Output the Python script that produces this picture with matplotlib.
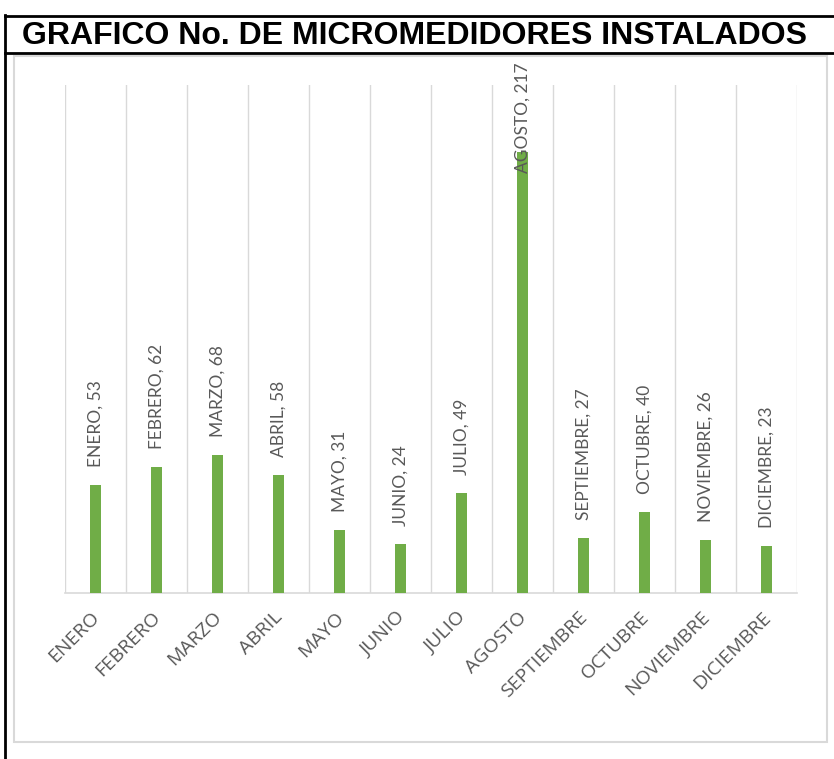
import matplotlib.pyplot as plt
from matplotlib.lines import Line2D
from matplotlib.patches import Rectangle
import numpy as np

meses = ['ENERO', 'FEBRERO', 'MARZO', 'ABRIL', 'MAYO', 'JUNIO', 'JULIO',
         'AGOSTO', 'SEPTIEMBRE', 'OCTUBRE', 'NOVIEMBRE', 'DICIEMBRE']
instalados = [53, 62, 68, 58, 31, 24, 49, 217, 27, 40, 26, 23]

W, H = 834, 759
fig = plt.figure(figsize=(W / 100, H / 100), dpi=100)

def fx(px):
    return px / W

def fy(py):
    return 1 - py / H

# table cell borders (black) and chart border (gray)
fig.add_artist(Line2D([fx(5), fx(5)], [fy(15), fy(759)], color='black', lw=2))
fig.add_artist(Line2D([fx(5), fx(834)], [fy(16), fy(16)], color='black', lw=2))
fig.add_artist(Line2D([fx(5), fx(834)], [fy(53), fy(53)], color='black', lw=2))
fig.add_artist(Rectangle((fx(14), fy(742)), fx(827) - fx(14), fy(56) - fy(742),
                         fill=False, ec='#d9d9d9', lw=1.5))

fig.text(fx(414), fy(36), 'GRAFICO No. DE MICROMEDIDORES INSTALADOS',
         ha='center', va='center', fontsize=23, fontweight='bold',
         family='Liberation Sans', color='black')

ax = fig.add_axes([fx(65), fy(593), fx(797) - fx(65), fy(85) - fy(593)])
x = np.arange(len(meses))
ax.bar(x, instalados, width=0.18, color='#70ad47', zorder=3)
ax.set_xlim(-0.5, len(meses) - 0.5)
ax.set_ylim(0, 250)

for b in np.arange(-0.5, len(meses), 1):
    ax.axvline(b, color='#d9d9d9', lw=1, zorder=1)

for s in ['top', 'left', 'right']:
    ax.spines[s].set_visible(False)
ax.spines['bottom'].set_color('#d9d9d9')
ax.spines['bottom'].set_linewidth(1.2)
ax.set_yticks([])
ax.set_xticks(x - 0.08)
ax.set_xticklabels(meses, rotation=45, ha='right', va='top', rotation_mode='anchor',
                   fontsize=14, family='Open Sans', color='#595959')
ax.tick_params(axis='x', length=0, pad=11)

for xi, (m, v) in enumerate(zip(meses, instalados)):
    lab = f'{m}, {v}'
    if v > 200:
        ax.text(xi, 1.045, lab, transform=ax.get_xaxis_transform(), rotation=90,
                ha='center', va='top', fontsize=12.5, family='Lato',
                color='#595959', zorder=4, clip_on=False)
    else:
        ax.annotate(lab, (xi, v), xytext=(0, 13), textcoords='offset points',
                    rotation=90, ha='center', va='bottom', fontsize=12.5,
                    family='Lato', color='#595959', zorder=4)

fig.savefig('out.png', dpi=100)
